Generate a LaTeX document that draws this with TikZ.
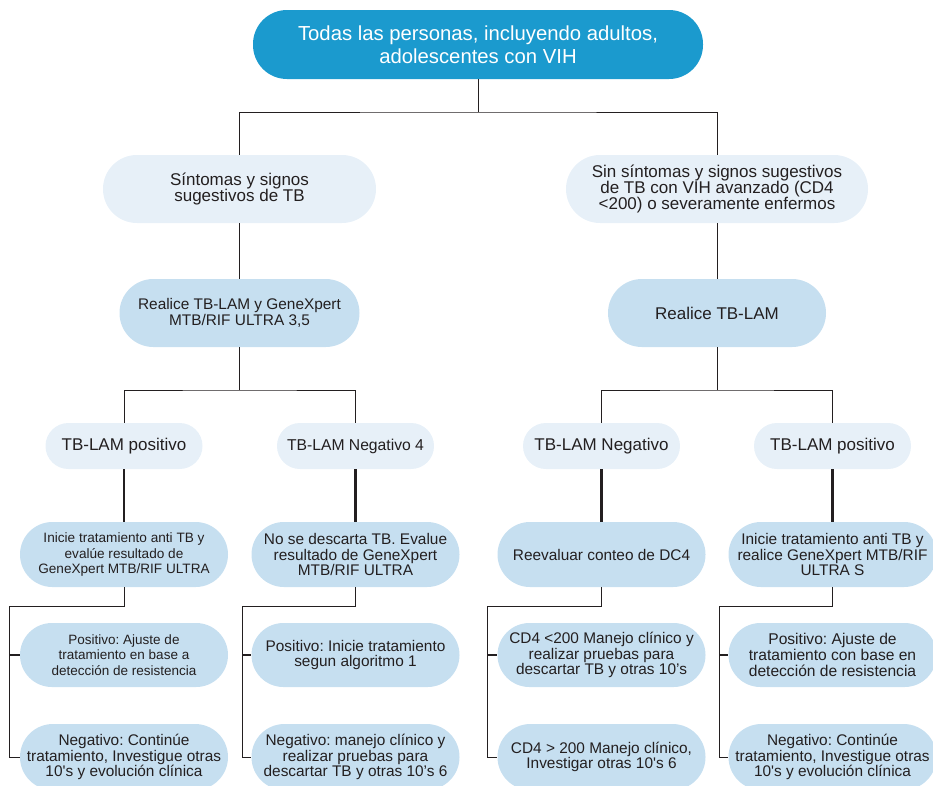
\documentclass[tikz,border=0pt]{standalone}
\usepackage{fontspec}
\setmainfont{Liberation Sans}
\definecolor{topblue}{RGB}{27,154,206}
\definecolor{lightbg}{RGB}{231,240,248}
\definecolor{midbg}{RGB}{198,223,240}
\definecolor{txt}{RGB}{35,31,32}
\definecolor{ln}{RGB}{35,31,32}
\frenchspacing
\begin{document}
\frenchspacing
\begin{tikzpicture}[x=1pt,y=-1pt,
  base/.style={rectangle, inner sep=0pt, align=center, text=txt},
  topnode/.style={base, rounded corners=34pt, minimum height=69pt, minimum width=450pt, fill=topblue, text=white, font=\fontsize{20.3}{23}\selectfont},
  lvtwo/.style={base, rounded corners=33.9pt, minimum height=68pt, fill=lightbg, font=\fontsize{17}{15.8}\selectfont},
  lvthree/.style={base, rounded corners=33.9pt, minimum height=68pt, fill=midbg, font=\fontsize{15.4}{16}\selectfont},
  lvfour/.style={base, rounded corners=22.9pt, minimum height=46pt, minimum width=157pt, fill=lightbg, font=\fontsize{17}{17}\selectfont},
  lvfive/.style={base, rounded corners=32.4pt, minimum height=65pt, minimum width=208pt, fill=midbg, font=\fontsize{15.4}{15.6}\selectfont},
  lvsix/.style={base, rounded corners=31.9pt, minimum height=64pt, minimum width=208pt, fill=midbg, font=\fontsize{15.4}{15.6}\selectfont},
  lvseven/.style={base, rounded corners=32.9pt, minimum height=66pt, minimum width=208pt, fill=midbg, font=\fontsize{15.4}{15.6}\selectfont},
  conn/.style={draw=ln, line width=0.9pt},
  thickconn/.style={draw=ln, line width=2.4pt},
  midconn/.style={draw=ln, line width=1.8pt}]
\useasboundingbox (0,0) rectangle (933,785);

% level 1
\node[topnode] (top) at (478,44.5) {Todas las personas, incluyendo adultos,\\adolescentes con VIH};

% level 2
\node[lvtwo, minimum width=273pt] (s1) at (239.5,189) {Síntomas y signos\\sugestivos de TB};
\node[lvtwo, minimum width=302pt, font=\fontsize{17}{16.2}\selectfont] (s2) at (717,189) {Sin síntomas y signos sugestivos\\de TB con VIH avanzado (CD4\\<200) o severamente enfermos};

% level 3
\node[lvthree, minimum width=240pt] (r1) at (239.5,313) {Realice TB-LAM y GeneXpert\\MTB/RIF ULTRA 3,5};
\node[lvthree, minimum width=218pt, font=\fontsize{17}{17}\selectfont] (r2) at (717,313) {Realice TB-LAM};

% level 4
\node[lvfour] (a1) at (124,446) {TB-LAM positivo};
\node[lvfour, font=\fontsize{15.7}{16}\selectfont] (a2) at (355.5,446) {TB-LAM Negativo 4};
\node[lvfour] (a3) at (601.5,446) {TB-LAM Negativo};
\node[lvfour] (a4) at (832.5,446) {TB-LAM positivo};

% level 5
\node[lvfive, font=\fontsize{13.6}{15.6}\selectfont] (b1) at (124,554.5) {Inicie tratamiento anti TB y\\evalúe resultado de\\GeneXpert MTB/RIF ULTRA};
\node[lvfive] (b2) at (355.5,554.5) {No se descarta TB. Evalue\\resultado de GeneXpert\\MTB/RIF ULTRA};
\node[lvfive] (b3) at (601.5,554.5) {Reevaluar conteo de DC4};
\node[lvfive] (b4) at (832.5,554.5) {Inicie tratamiento anti TB y\\realice GeneXpert MTB/RIF\\ULTRA S};

% level 6
\node[lvsix, font=\fontsize{13.5}{15.6}\selectfont] (c1) at (124,655) {Positivo: Ajuste de\\tratamiento en base a\\detección de resistencia};
\node[lvsix] (c2) at (355.5,655) {Positivo: Inicie tratamiento\\segun algoritmo 1};
\node[lvsix] (c3) at (601.5,655) {CD4 <200 Manejo clínico y\\realizar pruebas para\\descartar TB y otras 10’s};
\node[lvsix, font=\fontsize{15.6}{15.6}\selectfont] (c4) at (832.5,655) {Positivo: Ajuste de\\tratamiento con base en\\detección de resistencia};

% level 7
\node[lvseven] (d1) at (124,757) {Negativo: Continúe\\tratamiento, Investigue otras\\10\textquotesingle s y evolución clínica};
\node[lvseven] (d2) at (355.5,757) {Negativo: manejo clínico y\\realizar pruebas para\\descartar TB y otras 10’s 6};
\node[lvseven] (d3) at (601.5,757) {CD4 > 200 Manejo clínico,\\Investigar otras 10\textquotesingle s 6};
\node[lvseven] (d4) at (832.5,757) {Negativo: Continúe\\tratamiento, Investigue otras\\10\textquotesingle s y evolución clínica};

% junctions
\coordinate (j0) at (478,112);
\coordinate (j1) at (239.5,390);
\coordinate (j2) at (717,390);
\coordinate (v1) at (9,606);
\coordinate (v2) at (242,606);
\coordinate (v3) at (487,606);
\coordinate (v4) at (719,606);

% connectors
\draw[conn] (top.south) -- (j0);
\draw[conn] (s1.north) |- (j0) -| (s2.north);
\draw[conn] (s1.south) -- (r1.north);
\draw[conn] (s2.south) -- (r2.north);
\draw[conn] (r1.south) -- (j1);
\draw[conn] (a1.north) |- (j1) -| (a2.north);
\draw[conn] (r2.south) -- (j2);
\draw[conn] (a3.north) |- (j2) -| (a4.north);

\draw[thickconn] (a1.south) -- (b1.north);
\draw[thickconn] (a2.south) -- (b2.north);
\draw[thickconn] (a3.south) -- (b3.north);
\draw[thickconn] (a4.south) -- (b4.north);

\draw[conn] (b1.south) |- (v1) |- (d1.west);
\draw[midconn] (c1.west -| v1) -- (c1.west);
\draw[conn] (b2.south) |- (v2) |- (d2.west);
\draw[midconn] (c2.west -| v2) -- (c2.west);
\draw[conn] (b3.south) |- (v3) |- (d3.west);
\draw[midconn] (c3.west -| v3) -- (c3.west);
\draw[conn] (b4.south) |- (v4) |- (d4.west);
\draw[midconn] (c4.west -| v4) -- (c4.west);
\end{tikzpicture}
\end{document}
